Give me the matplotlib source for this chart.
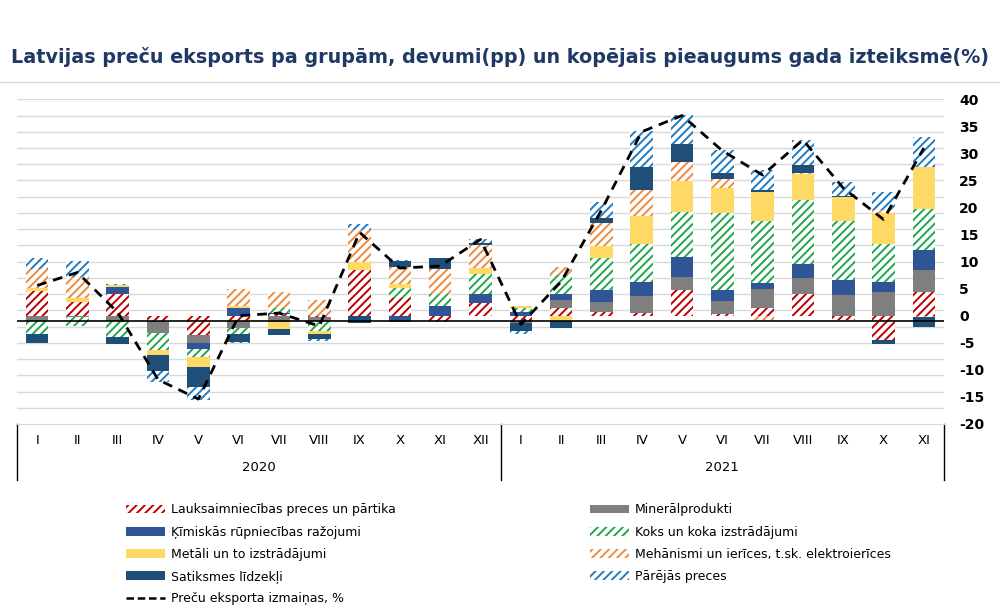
import matplotlib
matplotlib.use('Agg')
import matplotlib.pyplot as plt
from matplotlib.patches import Patch
from matplotlib.lines import Line2D
import numpy as np

plt.rcParams['font.family'] = 'DejaVu Sans'
plt.rcParams['axes.unicode_minus'] = False
plt.rcParams['hatch.linewidth'] = 1.4

# Dati (pp devumi pa grupām un kopējais pieaugums, %)
months = ['I', 'II', 'III', 'IV', 'V', 'VI', 'VII', 'VIII', 'IX', 'X', 'XI', 'XII',
          'I', 'II', 'III', 'IV', 'V', 'VI', 'VII', 'VIII', 'IX', 'X', 'XI']
years = ['2020', '2021']

agri = [4.6, 2.6, 4.1, -1.05, -3.5, -1.05, 0.3, -0.2, 8.5, 3.25, -1.2, 2.3,
        -1.0, 1.4, 0.75, 0.6, 4.8, 0.3, 1.4, 4.1, -0.8, -4.5, 4.4]
mineral = [-1.05, -0.3, -1.05, -2.2, -1.55, -1.2, -1.1, -0.85, 0, 0, 0, 0.15,
           -0.35, 1.5, 1.85, 3.0, 2.4, 2.5, 3.6, 2.8, 3.9, 4.3, 4.05]
chem = [0, 0, 1.2, 0, -1.1, 1.5, 0.3, 0, 0, -1.2, 1.85, 1.5,
        0.75, 1.1, 2.2, 2.6, 3.6, 2.0, 1.05, 2.6, 2.7, 1.85, 3.75]
wood = [-2.3, -1.5, -2.8, -3.1, -1.55, -1.2, 0.8, -1.7, 0, 1.85, 2.15, 3.7,
        0.7, 3.6, 5.8, 7.1, 8.4, 14.2, 11.4, 11.9, 10.9, 7.1, 7.5]
metals = [0.5, 0.7, 0.3, -0.85, -1.85, 0.3, -1.4, -0.6, 1.5, 0.85, 0, 1.1,
          0.3, -1.05, 2.3, 5.2, 5.7, 4.6, 5.4, 4.8, 4.4, 5.65, 7.8]
machinery = [3.5, 3.8, 0, 0, 0, 3.1, 2.9, 2.9, 5.9, 3.1, 4.6, 4.4,
             0, 1.35, 4.2, 4.8, 3.6, 1.65, -0.9, 0.25, 0, 0.6, -0.3]
transport = [-1.6, 0, -1.35, -3.0, -3.55, -1.35, -1.1, -0.9, -1.4, 1.0, 2.0, 0.3,
             -1.4, -1.25, 1.05, 4.1, 3.3, 1.1, 0.4, 1.35, 0.3, -0.75, -1.85]
other = [2.0, 3.0, 0.2, -2.0, -2.45, -0.2, 0.1, -0.5, 1.05, 0.2, 0, 0.8,
         -0.7, 0, 2.9, 6.7, 5.3, 4.2, 3.6, 4.7, 2.5, 3.45, 5.55]
total = [5.6, 8.0, 0.6, -11.8, -15.4, 0.0, 0.5, -1.9, 15.4, 8.8, 9.2, 14.1,
         -1.6, 6.3, 19.5, 34.0, 37.0, 30.5, 26.0, 32.5, 23.6, 17.8, 31.0]

series = [
    ('Lauksaimniecības preces un pārtika', agri, '#C00000', True),
    ('Minerālprodukti', mineral, '#7F7F7F', False),
    ('Ķīmiskās rūpniecības ražojumi', chem, '#2F5597', False),
    ('Koks un koka izstrādājumi', wood, '#1FA64A', True),
    ('Metāli un to izstrādājumi', metals, '#FFD966', False),
    ('Mehānismi un ierīces, t.sk. elektroierīces', machinery, '#F08A3C', True),
    ('Satiksmes līdzekļi', transport, '#1F4E79', False),
    ('Pārējās preces', other, '#1F7BC2', True),
]
line_label = 'Preču eksporta izmaiņas, %'

fig = plt.figure(figsize=(10, 6.16), dpi=100)
ax = fig.add_axes([0.017, 0.3117, 0.927, 0.5271])

x = np.arange(len(months))
pos_bottom = np.zeros(len(x))
neg_bottom = np.zeros(len(x))
handles = {}
for name, vals, color, hatched in series:
    v = np.array(vals, dtype=float)
    bottom = np.where(v >= 0, pos_bottom, neg_bottom)
    if hatched:
        ax.bar(x, v, 0.56, bottom=bottom, facecolor='white', edgecolor=color,
               hatch='////', linewidth=0, zorder=3)
        handles[name] = Patch(facecolor='white', edgecolor=color, hatch='////',
                              linewidth=0, label=name)
    else:
        ax.bar(x, v, 0.56, bottom=bottom, color=color, linewidth=0, zorder=3)
        handles[name] = Patch(facecolor=color, linewidth=0, label=name)
    pos_bottom += np.where(v > 0, v, 0)
    neg_bottom += np.where(v < 0, v, 0)

ax.plot(x, total, color='black', linestyle=(0, (3.5, 2.5)), linewidth=2, zorder=5)
handles[line_label] = Line2D([], [], color='black', linestyle=(0, (3, 1.5)),
                             linewidth=1.8, label=line_label)

# režģa līnijas
for g in range(40, -18, -3):
    ax.axhline(g, color='#D9D9D9', linewidth=1, zorder=1)
ax.axhline(-1.0, color='black', linewidth=1.2, zorder=4)

ax.set_xlim(-0.5, len(x) - 0.5)
ax.set_ylim(-20, 40)
ax.yaxis.tick_right()
ax.set_yticks(range(-20, 41, 5))
ax.tick_params(axis='y', length=0, pad=11, labelsize=10)
for t in ax.get_yticklabels():
    t.set_fontweight('bold')
ax.set_xticks([])
for s in ['top', 'left', 'right']:
    ax.spines[s].set_visible(False)
ax.spines['bottom'].set_color('#D9D9D9')
ax.spines['bottom'].set_position(('data', -20))

# kategoriju ass ar gadiem
trans = ax.get_xaxis_transform()
for i, m in enumerate(months):
    ax.text(i, -0.052, m, transform=trans, ha='center', va='center', fontsize=9.5)
ax.text(5.5, -0.135, years[0], transform=trans, ha='center', va='center', fontsize=9.5)
ax.text(17, -0.135, years[1], transform=trans, ha='center', va='center', fontsize=9.5)
for xb in [-0.5, 11.5, 22.5]:
    ax.plot([xb, xb], [0, -0.1725], transform=trans, color='black',
            linewidth=1, clip_on=False)

fig.text(0.5, 0.9075,
         'Latvijas preču eksports pa grupām, devumi(pp) un kopējais pieaugums gada izteiksmē(%)',
         ha='center', va='center', fontsize=13.75, fontweight='bold', color='#1F3864')
fig.add_artist(Line2D([0, 1], [0.8664, 0.8664], color='#D9D9D9', linewidth=1))

col1 = [series[0][0], series[2][0], series[4][0], series[6][0], line_label]
col2 = [series[1][0], series[3][0], series[5][0], series[7][0]]
kw = dict(frameon=False, fontsize=9, handlelength=3.1, handleheight=0.7,
          handletextpad=0.5, labelspacing=0.74, borderaxespad=0, borderpad=0)
leg1 = fig.legend([handles[n] for n in col1], col1, loc='upper left',
                  bbox_to_anchor=(0.126, 0.183), **kw)
leg2 = fig.legend([handles[n] for n in col2], col2, loc='upper left',
                  bbox_to_anchor=(0.590, 0.183), **kw)

fig.savefig('out.png', dpi=100)
